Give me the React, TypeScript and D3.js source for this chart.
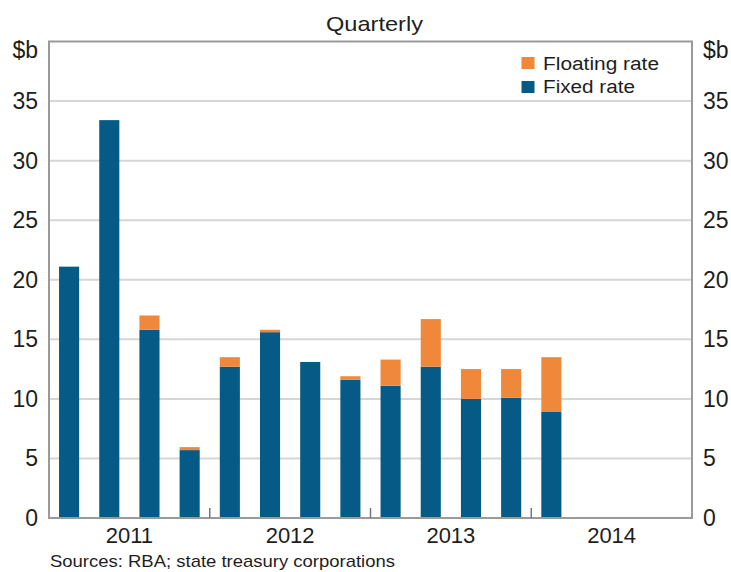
import React from "react";
import * as d3 from "d3";

const quarters = [
  "2011Q1","2011Q2","2011Q3","2011Q4",
  "2012Q1","2012Q2","2012Q3","2012Q4",
  "2013Q1","2013Q2","2013Q3","2013Q4",
  "2014Q1","2014Q2","2014Q3","2014Q4",
];
const dataQuarters = [
  "2011Q1","2011Q2","2011Q3","2011Q4",
  "2012Q1","2012Q2","2012Q3","2012Q4",
  "2013Q1","2013Q2","2013Q3","2013Q4",
  "2014Q1",
];
const fixedRate = [21.1, 33.4, 15.8, 5.7, 12.7, 15.6, 13.1, 11.6, 11.1, 12.7, 10.0, 10.1, 8.9];
const floatingRate = [0, 0, 1.2, 0.25, 0.8, 0.2, 0, 0.3, 2.2, 4.0, 2.5, 2.4, 4.6];
const years = ["2011", "2012", "2013", "2014"];
const yTicks = [0, 5, 10, 15, 20, 25, 30, 35];

const W = 731, H = 572;
const left = 49, right = 692, top = 41.5, bottom = 518;
const FIXED = "#065b86";
const FLOAT = "#f0883b";
const FONT = "'Liberation Sans', Arial, sans-serif";
const INK = "#1e1e1e";

export default function App() {
  const x = d3.scaleBand<string>().domain(quarters).range([left, right]).paddingInner(0.5).paddingOuter(0.25);
  const y = d3.scaleLinear().domain([0, 40]).range([bottom, top]);
  const bw = x.bandwidth();
  const step = x.step();
  const stack = dataQuarters.map((q, i) => ({ q, fixed: fixedRate[i], floating: floatingRate[i] }));
  const stacked = d3.stack<any>().keys(["fixed", "floating"])(stack);
  const colors: Record<string, string> = { fixed: FIXED, floating: FLOAT };
  const yearX = (i: number) => left + i * 4 * step;

  return (
    <svg width={W} height={H} style={{ position: "absolute", left: 0, top: 0, background: "#fff" }} fontFamily={FONT}>
      <text x={374.5} y={31} textAnchor="middle" fontSize={21} fill={INK} textLength={97} lengthAdjust="spacingAndGlyphs">Quarterly</text>
      {yTicks.filter(t => t > 0).map(t => (
        <line key={t} x1={left} x2={right} y1={y(t)} y2={y(t)} stroke="#d6d6d6" strokeWidth={2} />
      ))}
      {stacked.map(layer => (
        <g key={layer.key} fill={colors[layer.key]}>
          {layer.map((d: any, i: number) => {
            const h = y(d[0]) - y(d[1]);
            if (h <= 0) return null;
            return <rect key={i} x={x(dataQuarters[i])} y={y(d[1])} width={bw} height={h} />;
          })}
        </g>
      ))}
      <rect x={left} y={top} width={right - left} height={bottom - top} fill="none" stroke="#9a9a9a" strokeWidth={2} />
      {[1, 2, 3].map(i => (
        <line key={i} x1={yearX(i)} x2={yearX(i)} y1={bottom} y2={bottom - 10} stroke="#777" strokeWidth={1.5} />
      ))}
      {years.map((yr, i) => (
        <text key={yr} x={yearX(i) + 2 * step} y={543} textAnchor="middle" fontSize={22} fill={INK}>{yr}</text>
      ))}
      {yTicks.map(t => (
        <g key={t}>
          <text x={38} y={y(t) + 8} textAnchor="end" fontSize={23} fill={INK}>{t}</text>
          <text x={703} y={y(t) + 8} textAnchor="start" fontSize={23} fill={INK}>{t}</text>
        </g>
      ))}
      <text x={38} y={58} textAnchor="end" fontSize={23} fill={INK}>$b</text>
      <text x={703} y={58} textAnchor="start" fontSize={23} fill={INK}>$b</text>
      <rect x={521.5} y={57} width={13} height={12} fill={FLOAT} />
      <text x={543} y={69.5} fontSize={18} fill={INK} textLength={116} lengthAdjust="spacingAndGlyphs">Floating rate</text>
      <rect x={521.5} y={81} width={13} height={12} fill={FIXED} />
      <text x={543} y={93} fontSize={18} fill={INK} textLength={92} lengthAdjust="spacingAndGlyphs">Fixed rate</text>
      <text x={50} y={567} fontSize={17} fill={INK} textLength={345} lengthAdjust="spacingAndGlyphs">Sources: RBA; state treasury corporations</text>
    </svg>
  );
}
